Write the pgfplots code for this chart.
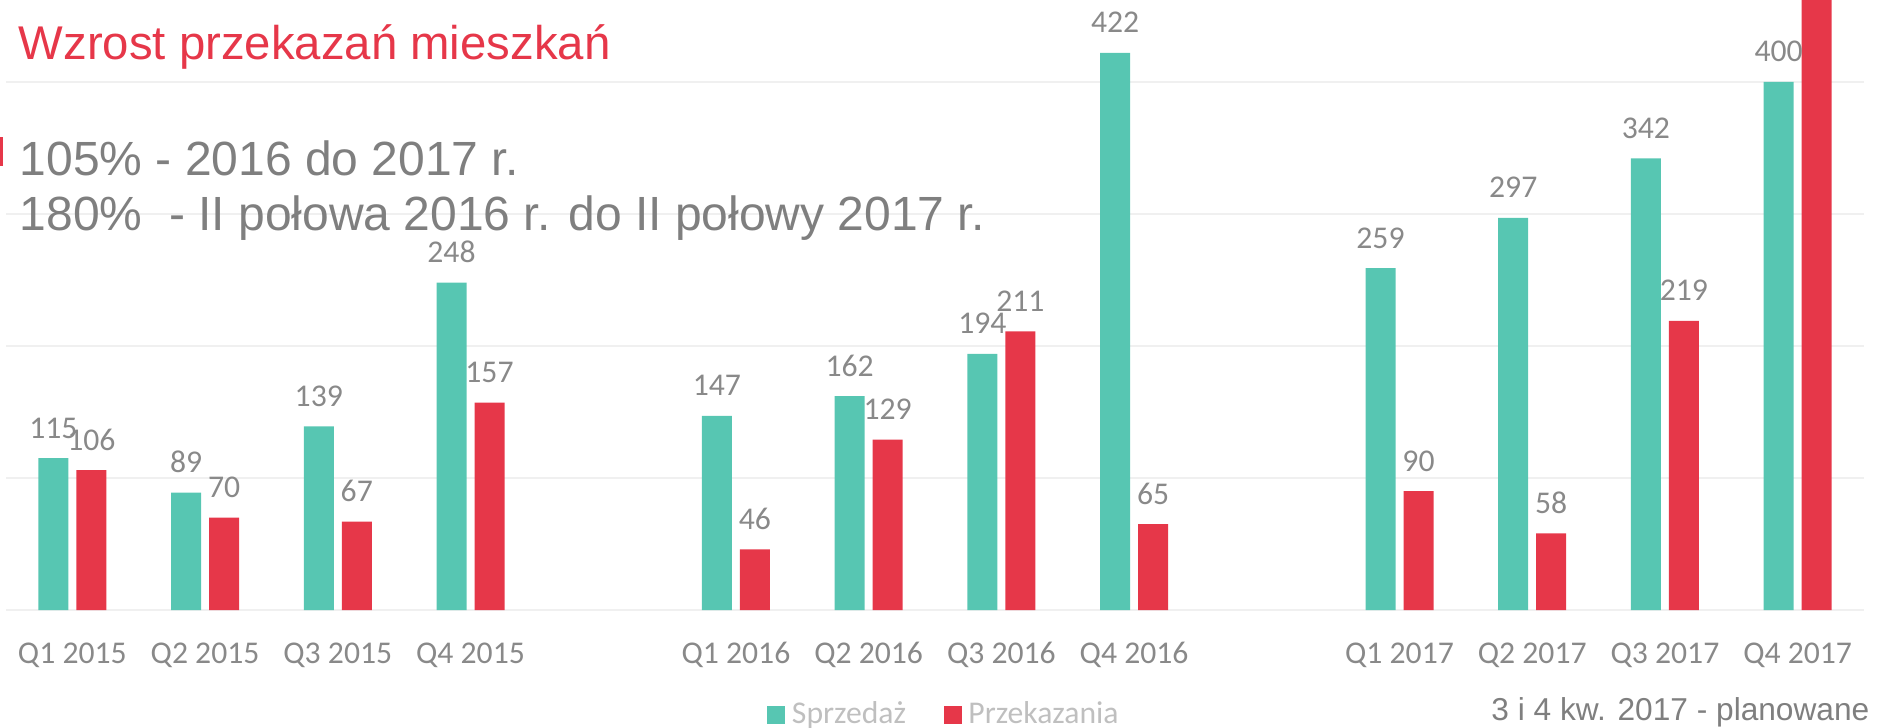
\documentclass[border=0pt]{standalone}
\usepackage{fontspec}
\setmainfont{Carlito}
\newfontfamily\arial{Liberation Sans}
\usepackage{pgfplots}
\pgfplotsset{compat=1.18}
\definecolor{sprz}{HTML}{57C6B2}
\definecolor{przek}{HTML}{E63749}
\definecolor{lbl}{HTML}{898989}
\definecolor{txt}{HTML}{7F7F7F}
\definecolor{gridc}{HTML}{F0F0F0}
\definecolor{legc}{HTML}{BFBFBF}

\begin{document}
\begin{tikzpicture}
\useasboundingbox (0,0) rectangle (567pt,218.1pt);
\begin{axis}[
  at={(1.8pt,35.1pt)}, anchor=south west,
  scale only axis, width=557.4pt, height=183pt,
  ybar, bar width=9pt,
  xmin=-0.5, xmax=13.5, ymin=0, ymax=462,
  /pgf/number format/assume math mode=true,
  xtick={0,1,2,3,5,6,7,8,10,11,12,13},
  xticklabels={Q1 2015,Q2 2015,Q3 2015,Q4 2015,Q1 2016,Q2 2016,Q3 2016,Q4 2016,Q1 2017,Q2 2017,Q3 2017,Q4 2017},
  ytick={0,100,200,300,400}, yticklabels={},
  ymajorgrids, major grid style={gridc, line width=0.6pt},
  axis line style={draw=none}, tick style={draw=none},
  xticklabel style={anchor=base, yshift=-11.7pt, text=lbl, font=\fontsize{9.5}{11}\selectfont},
  every node near coord/.append style={anchor=base, yshift=6pt, text=lbl, font=\fontsize{9.5}{11}\selectfont},
  legend columns=-1,
  legend style={draw=none, fill=none, at={(0.404,-0.172)}, anchor=west,
    font=\fontsize{9.5}{11}\selectfont, text=legc,
    /tikz/every even column/.append style={column sep=9.3pt}},
  legend image code/.code={\fill[#1] (0pt,-2.7pt) rectangle (5.4pt,2.7pt);},
]
% Sprzedaz
\addplot[fill=sprz, draw=none, bar shift=-5.7pt, nodes near coords] coordinates {
(0,115) (1,89) (2,139) (3,248)
(5,147) (6,162) (7,194) (8,422)
(10,259) (11,297) (12,342) (13,400)
};
% Przekazania (Q4 2017 runs off the top)
\addplot[fill=przek, draw=none, bar shift=5.7pt, nodes near coords, point meta=explicit symbolic] coordinates {
(0,106) [106] (1,70) [70] (2,67) [67] (3,157) [157]
(5,46) [46] (6,129) [129] (7,211) [211] (8,65) [65]
(10,90) [90] (11,58) [58] (12,219) [219] (13,480) []
};
\addlegendentry{Sprzedaż}
\addlegendentry{Przekazania}
\end{axis}
\begin{scope}[yshift=218.1pt, x=0.3pt, y=-0.3pt]
\fill[przek] (0,137) rectangle (3,166);
\node[anchor=base west, inner sep=0pt, text=przek, font=\arial\fontsize{14.2}{16}\selectfont] at (18,59) {Wzrost przekazań mieszkań};
\node[anchor=base west, inner sep=0pt, text=txt, font=\arial\fontsize{14.4}{16}\selectfont] at (19,175) {105\% - 2016 do 2017 r.};
\node[anchor=base west, inner sep=0pt, text=txt, font=\arial\fontsize{14.4}{16}\selectfont] at (19,230) {180\%\ \ - II połowa 2016 r. do II połowy 2017 r.};
\node[anchor=base east, inner sep=0pt, text=txt, font=\arial\fontsize{9.5}{11}\selectfont] at (1870,720) {3 i 4 kw. 2017 - planowane};
\end{scope}
\end{tikzpicture}
\end{document}
